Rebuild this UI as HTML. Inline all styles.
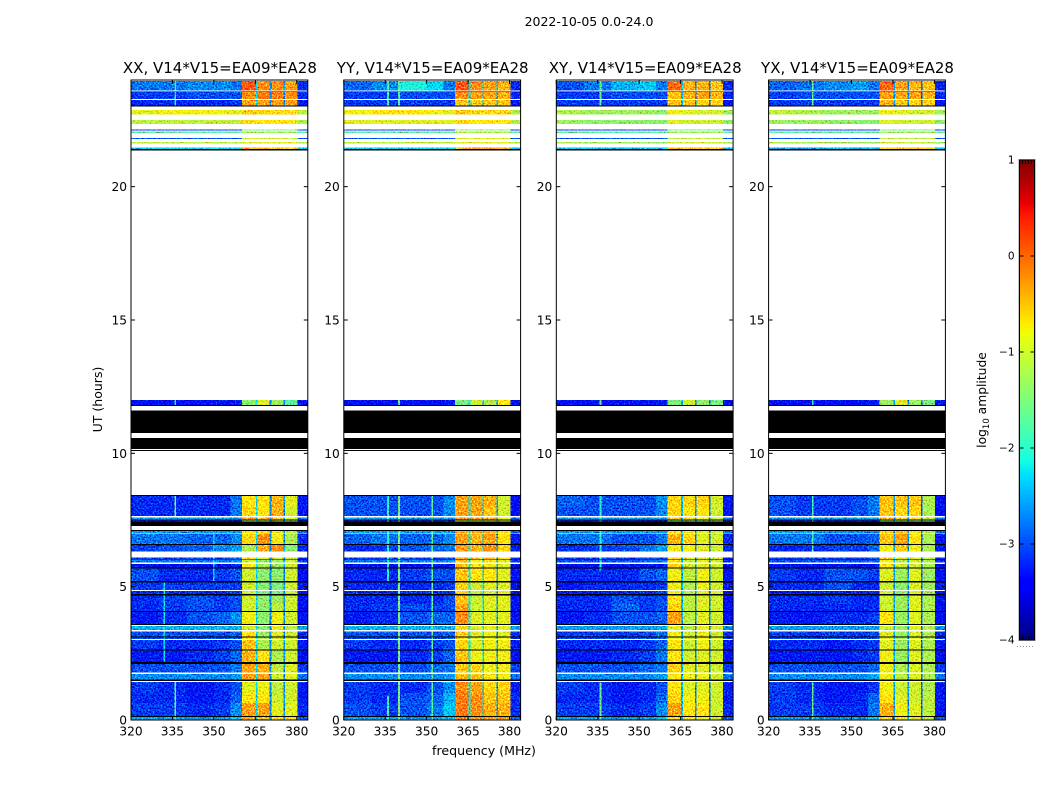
<!DOCTYPE html>
<html lang="en">
<head>
<meta charset="utf-8">
<title>2022-10-05 dynamic spectra</title>
<style>
html,body{margin:0;padding:0;background:#fff;width:1050px;height:800px;overflow:hidden}
svg{display:block}
text{font-family:"DejaVu Sans","Liberation Sans",sans-serif;fill:#000}
</style>
</head>
<body>
<svg id="figure" xmlns="http://www.w3.org/2000/svg" width="1050" height="800" viewBox="0 0 1050 800">
  <defs>
    <filter id="speckle" filterUnits="objectBoundingBox" x="0" y="0" width="1" height="1" color-interpolation-filters="sRGB">
      <feTurbulence type="fractalNoise" baseFrequency="0.62" numOctaves="2" seed="7" result="n"/>
      <feColorMatrix in="n" type="matrix" values="0 0 0 0 .5  1 0 0 0 0  .7 0 0 0 .15  0 0 0 0 1" result="g"/>
      <feComposite in="SourceGraphic" in2="g" operator="arithmetic" k1="0" k2="1" k3="1.5" k4="-0.75" result="mix"/>
      <feComposite in="mix" in2="SourceAlpha" operator="in"/>
    </filter>
  </defs>
  <text x="589" y="26" font-size="12.5" text-anchor="middle">2022-10-05 0.0-24.0</text>
  <text x="484" y="755" font-size="12.6" text-anchor="middle">frequency (MHz)</text>
  <text x="0" y="0" font-size="12.5" text-anchor="middle" transform="translate(102 399.5) rotate(-90)">UT (hours)</text>
  <text x="0" y="0" font-size="12.3" text-anchor="middle" transform="translate(986 400) rotate(-90)">log<tspan font-size="8.5" dy="3">10</tspan><tspan dy="-3"> amplitude</tspan></text>
  <g id="panels"></g>
  <g id="colorbar"></g>
</svg>
<script>
var panelTitles = ["XX, V14*V15=EA09*EA28", "YY, V14*V15=EA09*EA28", "XY, V14*V15=EA09*EA28", "YX, V14*V15=EA09*EA28"];
var freqTicks = [320, 335, 350, 365, 380];
var hourTicks = [0, 5, 10, 15, 20];
var colorbarTicks = [1, 0, -1, -2, -3, -4];

/* frequency cell edges, MHz */
var freqEdges = [320, 330, 340, 350, 356, 360.2, 365.2, 370.2, 375.2, 380.3, 384];

/* observed time bands, hours UT */
var timeBands = [
[0,0.11],[0.15,0.64],[0.64,1.01],[1.01,1.43],[1.52,1.725],[1.775,2.10],[2.175,2.61],[2.65,3.0],[3.04,3.09],[3.125,3.325],
[3.375,3.525],[3.6,4.05],[4.08,4.35],[4.35,4.675],[4.725,4.84],[4.875,5.15],[5.22,5.675],[5.725,5.85],[5.9,6.01],[6.04,6.1],
[6.31,6.56],[6.6,6.99],[7.02,7.09],[7.44,7.475],[7.51,7.59],[7.65,7.99],[7.99,8.4],[11.81,12],[21.41,21.475],[21.625,21.675],
[21.79,21.825],[22.01,22.06],[22.11,22.14],[22.35,22.5],[22.71,22.875],[23.05,23.25],[23.29,23.55],[23.6,23.96]
];

/* zero-amplitude (black) time bands, hours UT */
var flaggedBands = [
[0.11,0.15],[1.47,1.52],[2.10,2.175],[2.61,2.65],[3.09,3.125],[3.56,3.6],[4.05,4.08],[4.675,4.725],[5.15,5.22],[5.675,5.725],
[6.01,6.04],[6.56,6.6],[7.09,7.125],[7.275,7.44],[7.475,7.51],[8.4,8.44],[10.09,10.125],[10.17,10.575],[10.77,11.6],[11.775,11.81],
[21.36,21.41],[23.01,23.05],[23.55,23.57]
];

/* log10 amplitude per time band (rows) and frequency cell (columns) */
var xxCells = [
[-2.6,-2.6,-2.6,-2.6,-2.4,-0.4,-0.4,-0.6,-0.6,-2.9],
[-3.1,-3.1,-3.2,-3.1,-2.7,-0.3,-0.3,-0.9,-0.9,-3.2],
[-3.2,-3.2,-3.3,-3.2,-2.9,-0.7,-0.7,-1.0,-1.0,-3.3],
[-3.1,-3.2,-3.3,-3.2,-3.0,-0.9,-0.8,-1.1,-1.0,-3.3],
[-2.7,-2.7,-2.7,-2.7,-2.6,-0.3,-0.3,-1.0,-0.9,-2.8],
[-3.0,-3.0,-3.0,-3.0,-2.8,-0.3,-0.4,-1.1,-0.9,-3.1],
[-3.3,-3.3,-3.2,-3.1,-2.9,-0.4,-0.7,-1.2,-1.0,-3.4],
[-3.1,-3.2,-3.2,-3.1,-3.0,-0.5,-1.2,-1.0,-1.0,-3.3],
[-3.0,-3.0,-3.0,-3.0,-2.9,-0.7,-1.2,-1.0,-1.0,-3.2],
[-3.0,-3.0,-3.0,-3.0,-2.9,-0.7,-1.3,-0.9,-1.0,-3.2],
[-2.5,-2.5,-2.5,-2.5,-2.5,-1.0,-1.4,-0.8,-1.1,-2.6],
[-3.3,-3.2,-3.0,-2.9,-2.7,-0.8,-1.4,-0.8,-1.0,-3.4],
[-3.2,-3.1,-3.0,-3.1,-3.0,-1.0,-1.4,-1.1,-1.0,-3.4],
[-3.2,-3.1,-3.0,-3.1,-3.0,-1.0,-1.4,-1.3,-1.0,-3.4],
[-3.2,-3.2,-3.2,-3.2,-3.1,-1.0,-1.5,-1.5,-1.0,-3.4],
[-3.1,-3.1,-3.1,-3.1,-3.1,-1.0,-1.4,-1.5,-1.0,-3.3],
[-3.0,-3.2,-3.2,-3.1,-3.0,-1.0,-1.4,-1.4,-1.0,-3.4],
[-3.5,-3.5,-3.5,-3.5,-3.3,-0.7,-1.2,-1.3,-1.0,-3.6],
[-2.8,-2.8,-2.8,-2.8,-2.7,-1.0,-1.4,-1.3,-1.0,-3.1],
[-3.1,-3.1,-3.1,-3.1,-3.0,-0.7,-0.9,-1.0,-1.0,-3.2],
[-3.1,-3.0,-2.9,-2.7,-2.6,-1.2,-0.4,-0.2,-1.4,-3.2],
[-2.8,-2.8,-2.9,-2.9,-2.7,-0.6,-0.2,-0.8,-1.2,-3.2],
[-2.6,-2.6,-2.6,-2.6,-2.6,-0.7,-0.7,-0.9,-1.1,-2.9],
[-3.3,-3.3,-3.3,-3.3,-3.3,-1.2,-1.2,-1.2,-1.3,-3.4],
[-2.6,-2.6,-2.6,-2.6,-2.6,-0.3,-0.4,-0.5,-0.9,-2.8],
[-3.2,-3.2,-3.2,-3.2,-2.8,-0.6,-0.7,-0.4,-1.0,-3.3],
[-3.2,-3.2,-3.2,-3.2,-2.8,-0.7,-0.7,-0.4,-0.9,-3.3],
[-3.4,-3.4,-3.4,-3.4,-3.3,-1.4,-0.9,-1.3,-1.7,-3.5],
[-2.3,-2.3,-2.3,-2.3,-2.3,-0.3,-0.5,-0.5,-0.6,-2.4],
[-1.1,-1.1,-1.1,-1.1,-1.1,-0.9,-0.9,-0.9,-0.9,-1.2],
[-3.0,-3.0,-3.0,-3.0,-3.0,-1.0,-1.0,-1.0,-1.0,-3.0],
[-1.7,-1.7,-1.7,-1.7,-1.7,-1.3,-1.3,-1.3,-1.3,-1.7],
[-3.1,-3.1,-3.1,-3.1,-3.1,-1.5,-1.5,-1.5,-1.5,-3.1],
[-1.1,-1.1,-1.1,-1.1,-1.1,-0.6,-0.7,-0.7,-0.7,-1.2],
[-0.9,-0.8,-0.8,-0.8,-0.9,-0.5,-0.6,-0.6,-0.6,-1.1],
[-3.2,-3.2,-3.2,-3.2,-3.1,-0.3,-0.3,-0.3,-0.3,-3.3],
[-3.1,-3.1,-3.0,-3.0,-3.0,-0.2,-0.1,-0.1,-0.2,-3.2],
[-2.8,-2.8,-2.7,-2.7,-2.8,0.1,-0.2,-0.2,-0.3,-3.2]
];
var yyCells = [
[-2.6,-2.6,-2.6,-2.6,-2.4,-0.1,-0.2,-0.3,-0.3,-2.9],
[-3.0,-3.1,-3.0,-2.8,-2.4,-0.1,-0.2,-0.4,-0.4,-3.2],
[-3.1,-3.2,-3.0,-2.9,-2.5,-0.1,-0.2,-0.5,-0.5,-3.2],
[-3.1,-3.2,-3.2,-3.0,-2.7,-0.2,-0.3,-0.6,-0.6,-3.3],
[-2.7,-2.7,-2.7,-2.7,-2.6,-0.4,-0.5,-0.7,-0.8,-2.8],
[-3.0,-3.0,-3.0,-2.9,-2.8,-0.5,-0.6,-0.8,-0.8,-3.1],
[-3.3,-3.3,-3.2,-3.1,-2.9,-0.5,-0.8,-0.8,-0.8,-3.4],
[-3.1,-3.2,-3.2,-3.1,-3.0,-0.6,-0.9,-0.8,-0.8,-3.3],
[-3.0,-3.0,-3.0,-3.0,-2.9,-0.6,-0.9,-0.8,-0.8,-3.2],
[-3.0,-3.0,-3.0,-3.0,-2.9,-0.6,-0.9,-0.8,-0.9,-3.2],
[-2.5,-2.5,-2.5,-2.5,-2.5,-0.6,-0.9,-0.8,-0.9,-2.6],
[-3.3,-3.2,-3.0,-2.9,-2.9,-0.2,-0.9,-0.9,-0.9,-3.4],
[-3.2,-3.1,-3.0,-3.1,-3.0,-0.3,-1.0,-0.9,-0.9,-3.4],
[-3.2,-3.2,-3.2,-3.2,-3.0,-0.5,-1.0,-0.9,-0.9,-3.4],
[-3.2,-3.2,-3.2,-3.2,-3.1,-0.6,-1.1,-0.9,-0.9,-3.4],
[-3.2,-3.2,-3.2,-3.2,-3.1,-0.6,-1.0,-0.9,-0.9,-3.4],
[-3.2,-3.2,-3.1,-3.0,-3.0,-0.5,-0.7,-0.7,-0.9,-3.4],
[-3.5,-3.5,-3.5,-3.5,-3.3,-0.5,-0.7,-0.8,-0.9,-3.6],
[-2.8,-2.8,-2.8,-2.8,-2.7,-0.5,-0.8,-0.7,-0.9,-3.1],
[-3.1,-3.1,-3.1,-3.1,-3.0,-0.3,-0.5,-0.5,-0.7,-3.2],
[-3.2,-3.1,-3.0,-2.9,-2.8,-0.3,-0.4,-0.2,-0.6,-3.3],
[-2.9,-2.8,-2.9,-2.9,-2.7,-0.3,-0.4,-0.3,-0.7,-3.3],
[-2.6,-2.6,-2.6,-2.6,-2.6,-0.4,-0.4,-0.4,-0.7,-2.9],
[-3.3,-3.3,-3.3,-3.3,-3.3,-1.0,-1.0,-1.0,-1.0,-3.4],
[-2.6,-2.6,-2.6,-2.6,-2.6,-0.2,-0.3,-0.3,-0.8,-2.8],
[-3.0,-3.0,-3.0,-3.0,-2.7,-0.3,-0.3,-0.5,-1.0,-3.4],
[-3.0,-3.0,-3.0,-3.0,-2.7,-0.3,-0.3,-0.4,-1.0,-3.4],
[-3.4,-3.4,-3.4,-3.4,-3.3,-1.5,-1.0,-1.2,-0.7,-3.5],
[-2.3,-2.3,-2.3,-2.3,-2.3,-0.4,-0.2,-0.3,-0.4,-2.4],
[-1.1,-1.1,-1.1,-1.1,-1.1,-0.9,-0.9,-0.9,-0.9,-1.2],
[-3.0,-3.0,-3.0,-3.0,-3.0,-0.9,-0.9,-0.9,-0.9,-3.0],
[-1.7,-1.7,-1.7,-1.7,-1.7,-1.2,-1.2,-1.2,-1.2,-1.7],
[-3.1,-3.1,-3.1,-3.1,-3.1,-1.4,-1.4,-1.4,-1.4,-3.1],
[-0.9,-0.9,-0.9,-0.9,-0.9,-0.6,-0.7,-0.7,-0.7,-1.2],
[-0.8,-0.7,-0.7,-0.8,-0.9,-0.5,-0.6,-0.6,-0.6,-1.2],
[-3.1,-3.1,-3.1,-3.1,-3.1,-0.5,-0.5,-0.5,-0.5,-3.3],
[-3.1,-3.1,-3.0,-3.0,-3.0,-0.2,-0.3,-0.3,-0.4,-3.2],
[-2.9,-2.7,-2.1,-2.3,-2.8,0.1,-0.2,-0.3,-0.4,-3.2]
];
var xyCells = [
[-2.6,-2.6,-2.6,-2.6,-2.4,-0.6,-0.7,-0.8,-1.0,-2.9],
[-3.1,-3.1,-3.2,-3.1,-2.7,-0.3,-0.7,-0.7,-1.0,-3.2],
[-3.2,-3.2,-3.3,-3.2,-2.9,-0.6,-0.8,-0.8,-1.0,-3.3],
[-3.1,-3.2,-3.3,-3.2,-3.0,-0.7,-0.9,-0.9,-1.0,-3.3],
[-2.7,-2.7,-2.7,-2.7,-2.6,-0.7,-0.8,-0.8,-1.0,-2.8],
[-3.0,-3.0,-3.0,-2.9,-2.8,-0.6,-0.9,-0.9,-1.0,-3.1],
[-3.3,-3.3,-3.2,-3.1,-2.8,-0.7,-1.0,-0.9,-1.0,-3.4],
[-3.2,-3.2,-3.2,-3.1,-2.9,-0.7,-1.0,-0.8,-1.0,-3.3],
[-3.0,-3.0,-3.0,-3.0,-2.9,-0.8,-1.0,-0.8,-1.0,-3.2],
[-3.1,-3.1,-3.1,-3.0,-2.9,-0.8,-1.0,-0.8,-1.0,-3.2],
[-2.6,-2.6,-2.6,-2.6,-2.5,-0.9,-1.1,-0.8,-1.0,-2.7],
[-3.3,-3.2,-3.0,-3.0,-2.9,-0.3,-1.1,-0.9,-1.0,-3.4],
[-3.2,-3.2,-2.9,-3.1,-3.0,-0.6,-1.1,-0.9,-1.0,-3.4],
[-3.2,-3.2,-3.0,-3.1,-3.0,-0.7,-1.1,-0.9,-1.0,-3.4],
[-3.3,-3.3,-3.2,-3.2,-3.1,-0.8,-1.2,-0.9,-1.0,-3.4],
[-3.3,-3.2,-3.2,-3.2,-3.1,-0.8,-1.2,-0.8,-1.0,-3.3],
[-3.2,-3.2,-3.2,-3.0,-2.9,-0.8,-1.1,-0.8,-1.0,-3.4],
[-3.5,-3.5,-3.5,-3.5,-3.3,-0.6,-1.0,-0.9,-1.0,-3.6],
[-3.0,-3.0,-3.0,-2.9,-2.8,-0.7,-1.1,-0.9,-1.0,-3.2],
[-3.1,-3.1,-3.1,-3.1,-3.0,-0.6,-0.9,-0.9,-1.0,-3.2],
[-3.2,-3.1,-3.0,-2.8,-2.6,-0.8,-0.8,-0.9,-1.0,-3.2],
[-2.8,-2.8,-3.0,-3.0,-2.8,-0.4,-0.6,-0.9,-1.0,-3.2],
[-2.6,-2.6,-2.6,-2.6,-2.6,-0.7,-0.8,-0.9,-1.0,-2.9],
[-3.3,-3.3,-3.3,-3.3,-3.3,-1.4,-1.4,-1.4,-1.4,-3.4],
[-2.6,-2.6,-2.6,-2.6,-2.6,-0.5,-0.6,-0.7,-1.0,-2.8],
[-3.0,-3.0,-3.0,-3.0,-2.7,-0.6,-0.7,-0.7,-1.0,-3.3],
[-2.9,-3.0,-3.0,-3.0,-2.7,-0.6,-0.6,-0.6,-1.0,-3.3],
[-3.4,-3.4,-3.4,-3.4,-3.3,-1.5,-1.0,-1.4,-1.5,-3.5],
[-2.4,-2.4,-2.5,-2.4,-2.4,-0.5,-0.5,-0.5,-0.6,-2.4],
[-1.2,-1.3,-1.3,-1.3,-1.4,-1.0,-1.0,-1.0,-1.0,-1.3],
[-3.0,-3.0,-3.0,-3.0,-3.0,-1.1,-1.1,-1.1,-1.1,-3.0],
[-1.7,-1.7,-1.7,-1.7,-1.7,-1.3,-1.3,-1.3,-1.3,-1.7],
[-3.1,-3.1,-3.1,-3.1,-3.1,-1.5,-1.5,-1.5,-1.5,-3.1],
[-1.3,-1.4,-1.4,-1.4,-1.4,-0.9,-1.0,-1.0,-1.0,-1.4],
[-1.2,-1.3,-1.3,-1.3,-1.4,-0.8,-0.9,-1.0,-1.0,-1.3],
[-3.1,-3.1,-3.1,-3.1,-3.1,-0.5,-0.5,-0.6,-0.6,-3.3],
[-3.1,-3.1,-3.0,-3.0,-3.0,-0.5,-0.4,-0.3,-0.4,-3.2],
[-3.0,-2.8,-2.5,-2.4,-2.8,0.0,-0.4,-0.4,-0.5,-3.2]
];
var yxCells = [
[-2.6,-2.6,-2.6,-2.6,-2.4,-0.6,-0.7,-0.9,-1.1,-2.9],
[-3.1,-3.1,-3.2,-3.2,-2.8,-0.4,-0.8,-0.9,-1.1,-3.3],
[-3.1,-3.2,-3.3,-3.2,-2.9,-0.7,-0.9,-1.0,-1.1,-3.3],
[-3.1,-3.2,-3.3,-3.3,-3.1,-0.8,-1.0,-1.0,-1.2,-3.3],
[-2.7,-2.7,-2.7,-2.7,-2.6,-0.8,-1.1,-0.9,-1.2,-2.8],
[-3.0,-3.0,-3.0,-3.0,-2.9,-0.8,-1.2,-0.9,-1.2,-3.1],
[-3.3,-3.3,-3.3,-3.2,-3.1,-0.8,-1.3,-0.9,-1.2,-3.4],
[-3.2,-3.2,-3.3,-3.2,-3.1,-0.9,-1.3,-0.9,-1.2,-3.3],
[-3.0,-3.0,-3.0,-3.0,-3.0,-0.9,-1.3,-0.9,-1.2,-3.2],
[-3.1,-3.1,-3.1,-3.1,-3.0,-0.9,-1.3,-0.9,-1.2,-3.2],
[-2.6,-2.6,-2.6,-2.6,-2.6,-1.0,-1.3,-0.9,-1.2,-2.7],
[-3.3,-3.3,-3.2,-3.2,-3.1,-0.7,-1.3,-0.9,-1.2,-3.4],
[-3.2,-3.2,-3.2,-3.2,-3.2,-1.0,-1.3,-0.9,-1.2,-3.4],
[-3.2,-3.2,-3.1,-3.2,-3.2,-1.0,-1.3,-0.9,-1.2,-3.4],
[-3.3,-3.3,-3.3,-3.2,-3.2,-1.0,-1.4,-0.9,-1.3,-3.4],
[-3.2,-3.2,-3.0,-3.2,-3.2,-1.0,-1.4,-0.9,-1.3,-3.3],
[-3.1,-3.2,-3.0,-3.0,-3.1,-0.9,-1.3,-0.9,-1.3,-3.4],
[-3.5,-3.5,-3.5,-3.5,-3.3,-0.7,-1.0,-1.0,-1.2,-3.6],
[-3.0,-3.0,-3.0,-3.0,-2.9,-0.8,-1.2,-1.0,-1.2,-3.2],
[-3.1,-3.1,-3.1,-3.1,-3.0,-0.6,-0.9,-0.9,-1.1,-3.2],
[-3.2,-3.2,-3.1,-3.1,-2.9,-0.8,-0.5,-0.8,-1.2,-3.3],
[-2.8,-2.8,-3.0,-3.0,-2.9,-0.5,-0.3,-0.7,-1.2,-3.3],
[-2.6,-2.6,-2.7,-2.7,-2.7,-0.6,-0.5,-0.8,-1.2,-2.9],
[-3.3,-3.3,-3.3,-3.3,-3.3,-1.4,-1.4,-1.4,-1.4,-3.4],
[-2.6,-2.6,-2.6,-2.6,-2.6,-0.4,-0.5,-0.7,-1.1,-2.8],
[-3.0,-3.1,-3.1,-3.0,-2.8,-0.5,-0.6,-0.6,-1.2,-3.4],
[-3.0,-3.1,-3.1,-3.0,-2.8,-0.5,-0.5,-0.5,-1.2,-3.4],
[-3.4,-3.4,-3.4,-3.4,-3.3,-1.3,-0.9,-1.3,-1.5,-3.5],
[-2.5,-2.6,-2.5,-2.6,-2.5,-0.6,-0.5,-0.5,-0.6,-2.5],
[-1.2,-1.2,-1.3,-1.3,-1.4,-1.0,-1.0,-1.0,-1.1,-1.3],
[-3.0,-3.0,-3.0,-3.0,-3.0,-1.1,-1.1,-1.1,-1.1,-3.0],
[-1.7,-1.7,-1.7,-1.7,-1.7,-1.3,-1.3,-1.3,-1.3,-1.7],
[-3.1,-3.1,-3.1,-3.1,-3.1,-1.5,-1.5,-1.5,-1.5,-3.1],
[-1.3,-1.3,-1.4,-1.4,-1.4,-0.9,-1.0,-1.0,-1.0,-1.4],
[-1.1,-1.2,-1.3,-1.3,-1.3,-0.8,-0.9,-1.0,-1.0,-1.3],
[-3.1,-3.1,-3.1,-3.1,-3.1,-0.4,-0.5,-0.6,-0.6,-3.3],
[-3.1,-3.0,-3.0,-3.0,-3.0,-0.3,-0.3,-0.3,-0.4,-3.2],
[-2.9,-2.8,-2.7,-2.6,-2.8,0.0,-0.3,-0.4,-0.5,-3.2]
];
var panelCells = [xxCells, yyCells, xyCells, yxCells];

/* narrow channels: frequency MHz, log10 amplitude, from hour, to hour */
var xxLines = [[336,-1.7,0,1.43],[336,-1.6,7.65,8.4],[336,-2.0,11.81,12],[336,-2.0,23.05,23.96],[332,-2.2,2.2,5.2],[350,-2.3,5.2,7],[365.5,-2.3,0,8.44],[370.5,-2.7,0,8.44],[375.5,-2.7,0,8.44],[365.5,-2.3,11.81,12],[370.5,-2.7,11.81,12],[375.5,-2.7,11.81,12],[365.5,-2.3,23,24],[370.5,-2.7,23,24],[375.5,-2.7,23,24]];
var yyLines = [[340,-1.5,0,8.4],[336,-1.9,0,0.9],[336,-2.0,5.2,8.4],[352,-1.7,0,8.4],[340,-1.7,11.81,12],[340,-1.7,23.05,23.96],[336,-1.8,23.05,23.96],[365.5,-2.2,0,8.44],[370.5,-2.3,0,8.44],[375.5,-2.6,0,8.44],[365.5,-2.2,11.81,12],[370.5,-2.5,11.81,12],[375.5,-2.5,11.81,12],[365.5,-2.3,23,24],[370.5,-2.3,23,24],[375.5,-2.5,23,24]];
var xyLines = [[336,-1.6,0,1.4],[336,-2.0,5.6,8.4],[336,-1.7,11.81,12],[336,-1.6,23.05,23.96],[365.5,-2.5,0,8.44],[370.5,-2.7,0,8.44],[375.5,-2.8,0,8.44],[365.5,-2.5,11.81,12],[370.5,-2.7,11.81,12],[375.5,-2.8,11.81,12],[365.5,-2.5,23,24],[370.5,-2.7,23,24],[375.5,-2.8,23,24]];
var yxLines = [[336,-1.6,0,1.4],[336,-1.8,6.3,8.4],[336,-1.6,23.05,23.96],[336,-2.0,11.81,12],[365.5,-2.6,0,8.44],[370.5,-2.7,0,8.44],[375.5,-2.9,0,8.44],[365.5,-2.6,11.81,12],[370.5,-2.7,11.81,12],[375.5,-2.9,11.81,12],[365.5,-2.6,23,24],[370.5,-2.7,23,24],[375.5,-2.9,23,24]];
var panelLines = [xxLines, yyLines, xyLines, yxLines];

(function () {
  var NS = 'http://www.w3.org/2000/svg';
  var panelLeft = [131, 343.8, 556.3, 768.6];
  var panelWidth = 176.8;
  var plotTop = 80, plotBottom = 720;
  var freqMin = 320, freqMax = 384, hourMin = 0, hourMax = 24;
  var ampMin = -4, ampMax = 1;
  var barLeft = 1019.5, barRight = 1034.5, barTop = 160, barBottom = 640;

  function node(tag, attrs, parent) {
    var el = document.createElementNS(NS, tag);
    for (var k in attrs) { el.setAttribute(k, attrs[k]); }
    parent.appendChild(el);
    return el;
  }
  function xScale(p, f) { return panelLeft[p] + (f - freqMin) / (freqMax - freqMin) * panelWidth; }
  function yScale(h) { return plotBottom - (h - hourMin) / (hourMax - hourMin) * (plotBottom - plotTop); }
  function barY(v) { return barBottom - (v - ampMin) / (ampMax - ampMin) * (barBottom - barTop); }

  function ramp(t, pts) {
    if (t <= pts[0][0]) { return pts[0][1]; }
    for (var i = 1; i < pts.length; i++) {
      if (t <= pts[i][0]) {
        return pts[i - 1][1] + (t - pts[i - 1][0]) / (pts[i][0] - pts[i - 1][0]) * (pts[i][1] - pts[i - 1][1]);
      }
    }
    return pts[pts.length - 1][1];
  }
  function jet(v) {
    var t = (v - ampMin) / (ampMax - ampMin);
    var r = ramp(t, [[0.35, 0], [0.66, 1], [0.89, 1], [1, 0.5]]);
    var g = ramp(t, [[0.125, 0], [0.375, 1], [0.64, 1], [0.91, 0]]);
    var b = ramp(t, [[0, 0.5], [0.11, 1], [0.34, 1], [0.65, 0]]);
    return 'rgb(' + Math.round(r * 255) + ',' + Math.round(g * 255) + ',' + Math.round(b * 255) + ')';
  }
  function tickText(v) { return v < 0 ? '\u2212' + Math.abs(v) : String(v); }

  var root = document.getElementById('panels');

  panelTitles.forEach(function (title, p) {
    var panel = node('g', {}, root);
    
    

    var heat = node('g', { filter: 'url(#speckle)', 'shape-rendering': 'crispEdges' }, panel);
    
    

    timeBands.forEach(function (band, r) {
      var yTop = yScale(band[1]), yBot = yScale(band[0]);
      panelCells[p][r].forEach(function (value, c) {
        var x0 = xScale(p, freqEdges[c]), x1 = xScale(p, freqEdges[c + 1]);
        var cell = node('rect', { x: x0, y: yTop, width: x1 - x0, height: yBot - yTop, fill: jet(value) }, heat);
        
        
      });
      panelLines[p].forEach(function (line) {
        var lo = Math.max(line[2], band[0]), hi = Math.min(line[3], band[1]);
        if (hi <= lo) { return; }
        var xl = xScale(p, line[0] - 0.3), xr = xScale(p, line[0] + 0.3);
        var stripe = node('rect', { x: xl, y: yScale(hi), width: xr - xl, height: yScale(lo) - yScale(hi), fill: jet(line[1]) }, heat);
        
        
      });
    });

    flaggedBands.forEach(function (band) {
      var flag = node('rect', { x: xScale(p, freqMin), y: yScale(band[1]), width: panelWidth, height: yScale(band[0]) - yScale(band[1]), fill: '#000', 'shape-rendering': 'crispEdges' }, panel);
      
      
    });

    var frame = node('rect', { x: panelLeft[p], y: plotTop, width: panelWidth, height: plotBottom - plotTop, fill: 'none', stroke: '#000', 'stroke-width': 1 }, panel);
    
    

    var titleEl = node('text', { x: panelLeft[p] + panelWidth / 2 + 0.5, y: 73, 'font-size': 15, 'text-anchor': 'middle' }, panel);
    titleEl.textContent = title;
    
    

    freqTicks.forEach(function (f) {
      var x = xScale(p, f);
      [[plotBottom, plotBottom - 4], [plotTop, plotTop + 4]].forEach(function (seg) {
        var t = node('line', { x1: x, x2: x, y1: seg[0], y2: seg[1], stroke: '#000', 'stroke-width': 1 }, panel);
        
        
      });
      var lab = node('text', { x: x, y: 735.5, 'font-size': 12.2, 'text-anchor': 'middle' }, panel);
      lab.textContent = f;
      
      
    });

    hourTicks.forEach(function (h) {
      var y = yScale(h);
      [[panelLeft[p], panelLeft[p] + 4], [panelLeft[p] + panelWidth, panelLeft[p] + panelWidth - 4]].forEach(function (seg) {
        var t = node('line', { x1: seg[0], x2: seg[1], y1: y, y2: y, stroke: '#000', 'stroke-width': 1 }, panel);
        
        
      });
      var lab = node('text', { x: panelLeft[p] - 4, y: y + 4.5, 'font-size': 12.2, 'text-anchor': 'end' }, panel);
      lab.textContent = h;
      
      
    });
  });

  var bar = document.getElementById('colorbar');
  var halo = node('rect', { x: barLeft - 1.5, y: barTop - 1, width: barRight - barLeft + 3, height: barBottom - barTop + 2, fill: '#c4c4c4' }, bar);
  
  
  var steps = 240;
  for (var i = 0; i < steps; i++) {
    var v0 = ampMin + (ampMax - ampMin) * i / steps;
    var v1 = ampMin + (ampMax - ampMin) * (i + 1) / steps;
    var seg = node('rect', { x: barLeft, y: barY(v1), width: barRight - barLeft, height: barY(v0) - barY(v1) + 0.5, fill: jet((v0 + v1) / 2), 'shape-rendering': 'crispEdges' }, bar);
    
    
  }
  var barFrame = node('rect', { x: barLeft, y: barTop, width: barRight - barLeft, height: barBottom - barTop, fill: 'none', stroke: '#000', 'stroke-width': 1 }, bar);
  
  

  colorbarTicks.forEach(function (v) {
    var y = barY(v);
    [[barLeft, barLeft + 4], [barRight, barRight - 4]].forEach(function (s) {
      var t = node('line', { x1: s[0], x2: s[1], y1: y, y2: y, stroke: '#000', 'stroke-width': 1 }, bar);
      
      
    });
    var lab = node('text', { x: barLeft - 5, y: y + 3.5, 'font-size': 10.5, 'text-anchor': 'end' }, bar);
    lab.textContent = tickText(v);
    
    
  });

  for (var m = 1; m <= 4; m++) {
    var mx = barLeft + (barRight - barLeft) * m / 5;
    [[barTop, barTop + 4], [barBottom, barBottom - 4]].forEach(function (s) {
      var mt = node('line', { x1: mx, x2: mx, y1: s[0], y2: s[1], stroke: '#000', 'stroke-width': 1 }, bar);
      
      
    });
  }
  var dots = node('line', { x1: 1017, x2: 1035, y1: 646.5, y2: 646.5, stroke: '#999', 'stroke-width': 1, 'stroke-dasharray': '1 2' }, bar);
  
  
})();
</script>
</body>
</html>
